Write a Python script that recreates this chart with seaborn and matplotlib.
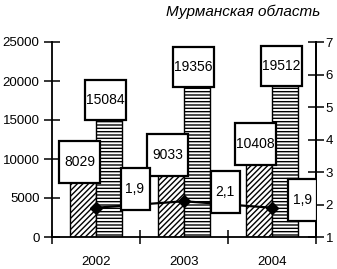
import numpy as np
import pandas as pd
import seaborn as sns
import matplotlib.pyplot as plt
from matplotlib.patches import Rectangle
from matplotlib.transforms import ScaledTranslation

years = ["2002", "2003", "2004"]
series_a = [8029, 9033, 10408]
series_b = [15084, 19356, 19512]
ratio = [1.9, 2.1, 1.9]
ratio_labels = ["1,9", "2,1", "1,9"]
title = "Мурманская область"

sns.set_style("ticks")
plt.rcParams["font.family"] = ["Liberation Sans", "DejaVu Sans"]
plt.rcParams["hatch.linewidth"] = 1.0
plt.rcParams["axes.linewidth"] = 1.3
for k in ["text.color", "xtick.color", "ytick.color", "axes.edgecolor", "axes.labelcolor"]:
    plt.rcParams[k] = "black"

df = pd.DataFrame({
    "year": years * 2,
    "value": series_a + series_b,
    "series": ["a"] * 3 + ["b"] * 3,
})

fig = plt.figure(figsize=(3.37, 2.69), dpi=100)
ax = fig.add_axes([52 / 337, 32 / 269, 264 / 337, 195 / 269])

sns.barplot(data=df, x="year", y="value", hue="series", palette=["white", "white"],
            edgecolor="black", linewidth=1, width=0.6, saturation=1, legend=False, ax=ax)
for bar in ax.containers[0]:
    bar.set_hatch("//////")
for bar in ax.containers[1]:
    bar.set_hatch("-----")

ax2 = ax.twinx()
ax2.plot([0, 1, 2], ratio, color="black", lw=1.6, marker="D", ms=6, zorder=3)


def box(x, y, trans, dx, dy, w, h, text):
    # box drawn in pixels around a data point
    t = fig.dpi_scale_trans + ScaledTranslation(x, y, trans)
    cx, cy = dx / 100, dy / 100
    ax2.add_patch(Rectangle((cx - w / 200, cy - h / 200), w / 100, h / 100, transform=t,
                            facecolor="white", edgecolor="black", lw=1.6, zorder=5))
    ax2.text(cx, cy, text, transform=t, ha="center", va="center", fontsize=10, zorder=6)


for bar, v in zip(ax.containers[0], series_a):
    box(bar.get_x() + bar.get_width() / 2, v, ax.transData, -3, 12, 41, 42, str(v))
for bar, v in zip(ax.containers[1], series_b):
    box(bar.get_x() + bar.get_width() / 2, v, ax.transData, -4, 19, 41, 40, str(v))
ratio_off = [(39, 19), (41, 9), (30, 8)]
for i, (v, lab) in enumerate(zip(ratio, ratio_labels)):
    box(i, v, ax2.transData, ratio_off[i][0], ratio_off[i][1], 29, 42, lab)

ax.set_xlim(-0.5, 2.5)
ax.set_ylim(0, 25000)
ax2.set_ylim(1, 7)
ax.set_yticks(np.arange(0, 25001, 5000))
ax2.set_yticks(np.arange(1, 8))
ax.set_xticks([-0.5, 0.5, 1.5, 2.5])
ax.set_xticklabels([])
ax.set_xticks([0, 1, 2], minor=True)
ax.set_xticklabels(years, minor=True)
ax.tick_params(axis="x", which="minor", length=0, pad=14, labelsize=9.5)
ax.tick_params(axis="x", which="major", direction="inout", length=10, width=1.1)
ax.tick_params(axis="y", direction="inout", length=12, width=1.1, labelsize=9.5, pad=3)
ax2.tick_params(axis="y", direction="inout", length=12, width=1.1, labelsize=9.5, pad=1)
ax.set_xlabel("")
ax.set_ylabel("")
for a in (ax, ax2):
    a.spines["top"].set_visible(False)
ax2.spines["left"].set_visible(False)
ax2.spines["bottom"].set_visible(False)

fig.text(0.95, 0.955, title, ha="right", va="center", style="italic", fontsize=11)

fig.savefig("out.png", dpi=100)
